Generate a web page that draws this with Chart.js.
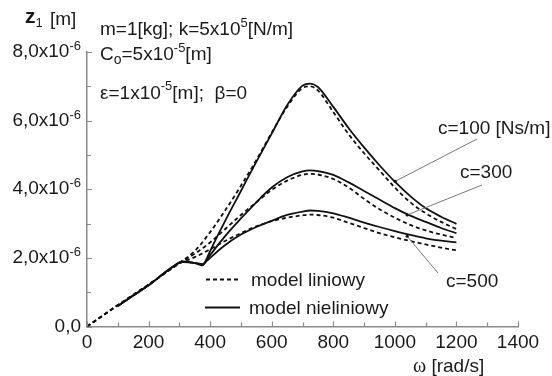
<!DOCTYPE html>
<html>
<head>
<meta charset="utf-8">
<script src="https://cdn.jsdelivr.net/npm/chart.js@4/dist/chart.umd.min.js"></script>
<style>
  html, body { margin: 0; padding: 0; background: #fff; }
  #wrap { width: 552px; height: 376px; }
</style>
</head>
<body>
<div id="wrap"><canvas id="chart" width="552" height="376"></canvas></div>
<script>
'use strict';

// ── Data (z1 in units of 1e-6 m) ──────────────────────────────
const omegaLin = [0, 100, 200, 300, 350, 400, 450, 500, 550, 600, 650, 700, 725,
                  750, 800, 850, 900, 950, 1000, 1050, 1100, 1150, 1200];
const linC100  = [0, 0.62, 1.22, 1.85, 2.2, 2.75, 3.4, 4.1, 4.85, 5.65, 6.4, 6.95, 7.0,
                  6.88, 6.25, 5.6, 5.05, 4.55, 4.05, 3.62, 3.3, 3.05, 2.84];
const linC300  = [0, 0.62, 1.22, 1.85, 2.12, 2.45, 2.85, 3.25, 3.62, 3.98, 4.25, 4.42, 4.45,
                  4.43, 4.3, 4.05, 3.72, 3.42, 3.17, 2.96, 2.8, 2.68, 2.58];
const linC500  = [0, 0.62, 1.22, 1.83, 2.02, 2.25, 2.5, 2.72, 2.92, 3.07, 3.17, 3.24, 3.26,
                  3.25, 3.17, 3.02, 2.87, 2.72, 2.6, 2.49, 2.39, 2.3, 2.22];

const omegaNl  = [100, 150, 200, 250, 280, 310, 340, 360, 375, 390, 400, 450, 500, 550,
                  600, 650, 700, 725, 750, 800, 850, 900, 950, 1000, 1050, 1100, 1150, 1200];
const nlC100   = [0.6, 0.9, 1.2, 1.55, 1.75, 1.9, 1.87, 1.82, 1.78, 2.0, 2.2, 3.1, 3.95, 4.8,
                  5.62, 6.45, 7.02, 7.08, 6.98, 6.4, 5.78, 5.22, 4.7, 4.22, 3.8, 3.45, 3.2, 2.99];
const nlC300   = [0.6, 0.9, 1.2, 1.55, 1.75, 1.89, 1.86, 1.83, 1.8, 1.95, 2.08, 2.65, 3.15, 3.62,
                  4.05, 4.35, 4.52, 4.55, 4.53, 4.42, 4.2, 3.95, 3.7, 3.45, 3.23, 3.05, 2.87, 2.72];
const nlC500   = [0.6, 0.9, 1.2, 1.55, 1.75, 1.88, 1.86, 1.84, 1.82, 1.92, 2.0, 2.38, 2.68, 2.9,
                  3.08, 3.25, 3.35, 3.38, 3.37, 3.3, 3.17, 3.03, 2.9, 2.78, 2.67, 2.57, 2.5, 2.45];

const xTicks = [0, 200, 400, 600, 800, 1000, 1200, 1400];
const yTicks = [0, 2, 4, 6, 8];

// c-labels and the (omega, z) point each pointer line touches
const cLabels = ['c=100 [Ns/m]', 'c=300', 'c=500'];
const cTips   = [[1001, 4.23], [1040, 3.25], [1040, 2.63]];

// ── Style ─────────────────────────────────────────────────────
const FONT   = "'Liberation Sans', Arial, sans-serif";
const INK    = '#1a1a1a';
const AXIS   = '#8a8a8a';
const LINE_W = 1.8;
const DASH   = [4, 3];

function toPoints(xs, ys) {
  return xs.map((x, i) => ({ x, y: ys[i] }));
}

function series(xs, ys, dashed) {
  return {
    data: toPoints(xs, ys),
    borderColor: '#111',
    borderWidth: LINE_W,
    borderDash: dashed ? DASH : [],
    pointRadius: 0,
    cubicInterpolationMode: 'monotone',
    fill: false,
  };
}

// draw a run of text pieces (size, dy for sub/superscripts)
function drawRuns(ctx, x, y, runs, align) {
  let total = 0;
  runs.forEach(r => {
    ctx.font = `${r.bold ? 'bold ' : ''}${r.size}px ${r.family || FONT}`;
    r.w = ctx.measureText(r.t).width;
    total += r.w;
  });
  let cx = align === 'right' ? x - total : x;
  runs.forEach(r => {
    ctx.font = `${r.bold ? 'bold ' : ''}${r.size}px ${r.family || FONT}`;
    ctx.fillText(r.t, cx, y + (r.dy || 0));
    cx += r.w;
  });
}

// ── Decorations: inward ticks, y labels, annotations, legend ──
const decorations = {
  id: 'decorations',
  afterDraw(chart) {
    const { ctx, scales: { x, y } } = chart;
    ctx.save();

    // inward tick marks
    ctx.strokeStyle = AXIS;
    ctx.lineWidth = 1.2;
    ctx.beginPath();
    for (let v = 0; v <= 1400; v += 100) {
      const px = Math.round(x.getPixelForValue(v)) + 0.5;
      const len = v % 200 === 0 ? 5 : 4;
      ctx.moveTo(px, y.bottom);
      ctx.lineTo(px, y.bottom - len);
    }
    for (let v = 0; v <= 8; v += 1) {
      const py = Math.round(y.getPixelForValue(v)) + 0.5;
      const len = v % 2 === 0 ? 5 : 4;
      ctx.moveTo(x.left, py);
      ctx.lineTo(x.left + len, py);
    }
    ctx.stroke();

    ctx.fillStyle = INK;
    ctx.textBaseline = 'alphabetic';

    // y tick labels with superscript exponent
    yTicks.forEach(v => {
      const py = y.getPixelForValue(v) + 5;
      const main = v.toFixed(1).replace('.', ',');
      const runs = v === 0
        ? [{ t: main, size: 19 }]
        : [{ t: main + 'x10', size: 19 }, { t: '-6', size: 13, dy: -7 }];
      drawRuns(ctx, x.left - 6, py, runs, 'right');
    });

    // axis titles
    drawRuns(ctx, 25, 23, [
      { t: 'z', size: 21, bold: true },
      { t: '1', size: 13, dy: 4 },
    ]);
    drawRuns(ctx, 50, 25, [{ t: '[m]', size: 19 }]);
    drawRuns(ctx, 413, 372, [
      { t: 'ω', size: 20, family: "'Liberation Serif', serif" },
      { t: ' [rad/s]', size: 19 },
    ]);

    // parameter block
    drawRuns(ctx, 100, 35, [
      { t: 'm=1[kg]; k=5x10', size: 19 },
      { t: '5', size: 13, dy: -8 },
      { t: '[N/m]', size: 19 },
    ]);
    drawRuns(ctx, 100, 60, [
      { t: 'C', size: 19 },
      { t: 'o', size: 14, dy: 4 },
      { t: '=5x10', size: 19 },
      { t: '-5', size: 13, dy: -8 },
      { t: '[m]', size: 19 },
    ]);
    drawRuns(ctx, 100, 99, [
      { t: 'ε=1x10', size: 19 },
      { t: '-5', size: 13, dy: -9 },
      { t: '[m];  β=0', size: 19 },
    ]);

    // c labels and pointer lines
    const labelPos = [[438, 134], [460, 178], [446, 287]];
    const lineFrom = [[477, 139], [482, 185], [438, 273]];
    ctx.font = `19px ${FONT}`;
    cLabels.forEach((t, i) => {
      ctx.fillStyle = INK;
      ctx.fillText(t, labelPos[i][0], labelPos[i][1]);
      const tx = x.getPixelForValue(cTips[i][0]);
      const ty = y.getPixelForValue(cTips[i][1]);
      ctx.strokeStyle = '#777';
      ctx.lineWidth = 1;
      ctx.beginPath();
      ctx.moveTo(lineFrom[i][0], lineFrom[i][1]);
      ctx.lineTo(tx, ty);
      ctx.stroke();
      ctx.fillStyle = '#111';
      ctx.beginPath();
      ctx.arc(tx, ty, 1.6, 0, Math.PI * 2);
      ctx.fill();
    });

    // legend
    ctx.strokeStyle = '#111';
    ctx.lineWidth = LINE_W;
    ctx.setLineDash(DASH);
    ctx.beginPath();
    ctx.moveTo(206, 279.5);
    ctx.lineTo(238, 279.5);
    ctx.stroke();
    ctx.setLineDash([]);
    ctx.beginPath();
    ctx.moveTo(205, 307.5);
    ctx.lineTo(240, 307.5);
    ctx.stroke();
    ctx.fillStyle = INK;
    ctx.font = `19px ${FONT}`;
    ctx.fillText('model liniowy', 251, 286);
    ctx.fillText('model nieliniowy', 249, 314);

    ctx.restore();
  },
};

// ── Chart ─────────────────────────────────────────────────────
const ctx = document.getElementById('chart').getContext('2d');

new Chart(ctx, {
  type: 'line',
  data: {
    datasets: [
      series(omegaLin, linC100, true),
      series(omegaLin, linC300, true),
      series(omegaLin, linC500, true),
      series(omegaNl, nlC100, false),
      series(omegaNl, nlC300, false),
      series(omegaNl, nlC500, false),
    ],
  },
  options: {
    responsive: false,
    animation: false,
    layout: { padding: { top: 52, right: 34, left: 0, bottom: 0 } },
    plugins: { legend: { display: false }, tooltip: { enabled: false } },
    scales: {
      x: {
        type: 'linear',
        min: 0,
        max: 1400,
        afterBuildTicks: s => { s.ticks = xTicks.map(v => ({ value: v })); },
        grid: { display: false, drawTicks: false },
        border: { display: true, color: AXIS, width: 1.5 },
        ticks: {
          color: INK,
          font: { family: FONT, size: 19 },
          padding: 5,
          maxRotation: 0,
          autoSkip: false,
          callback: v => String(v),
        },
        afterFit: s => { s.height = 49.5; },
      },
      y: {
        type: 'linear',
        min: 0,
        max: 8,
        afterBuildTicks: s => { s.ticks = yTicks.map(v => ({ value: v })); },
        grid: { display: false, drawTicks: false },
        border: { display: true, color: AXIS, width: 1.5 },
        ticks: { display: false },
        afterFit: s => { s.width = 87; },
      },
    },
  },
  plugins: [decorations],
});
</script>
</body>
</html>
